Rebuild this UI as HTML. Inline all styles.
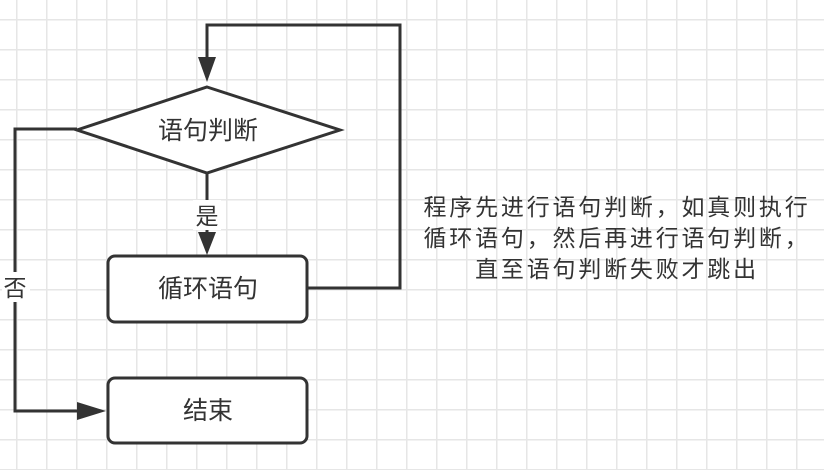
<!DOCTYPE html>
<html><head><meta charset="utf-8"><style>
html,body{margin:0;padding:0;background:#fff;}
#c{position:relative;width:824px;height:470px;overflow:hidden;
background-color:#fff;
background-image:linear-gradient(to right,#e6e6e6 1.5px,transparent 1.5px),linear-gradient(to bottom,#e6e6e6 1.5px,transparent 1.5px);
background-size:30px 30px;background-position:16px 19px;}
svg{position:absolute;left:0;top:0;}
.t{font-family:"Liberation Sans","Noto Sans CJK SC",sans-serif;fill:#333;}
.note{position:absolute;left:410px;width:414px;top:192px;text-align:center;font-family:"Liberation Sans","Noto Sans CJK SC",sans-serif;font-size:23px;line-height:31px;letter-spacing:2.8px;color:#333;}
</style></head><body><div id="c">
<svg width="824" height="470">
<g stroke="#333" stroke-width="3" fill="none">
<polyline points="307,288 400,288 400,25 207,25 207,66"/>
<polygon points="207,87 340,130 207,173 77,130" fill="#fff"/>
<line x1="207" y1="173" x2="207" y2="236"/>
<polyline points="77,129 15,129 15,411 88,411"/>
<rect x="108" y="256" width="199" height="66" rx="7" fill="#fff"/>
<rect x="108" y="378" width="199" height="65" rx="7" fill="#fff"/>
</g>
<g fill="#333">
<polygon points="198,57 216,57 207,82"/>
<polygon points="198,232 216,232 207,255"/>
<polygon points="77,402 77,420 106,411"/>
</g>
<rect x="193" y="200" width="28" height="30" fill="#fff"/>
<rect x="2" y="272" width="28" height="30" fill="#fff"/>
<g class="t" font-size="25" text-anchor="middle">
<text x="208" y="139">语句判断</text>
<text x="208" y="297">循环语句</text>
<text x="208" y="419">结束</text>
</g>
<g class="t" font-size="23" text-anchor="middle">
<text x="207" y="224">是</text>
<text x="15" y="296">否</text>
</g>
</svg>
<div class="note">程序先进行语句判断，如真则执行<br>循环语句，然后再进行语句判断，<br>直至语句判断失败才跳出</div>
</div></body></html>
